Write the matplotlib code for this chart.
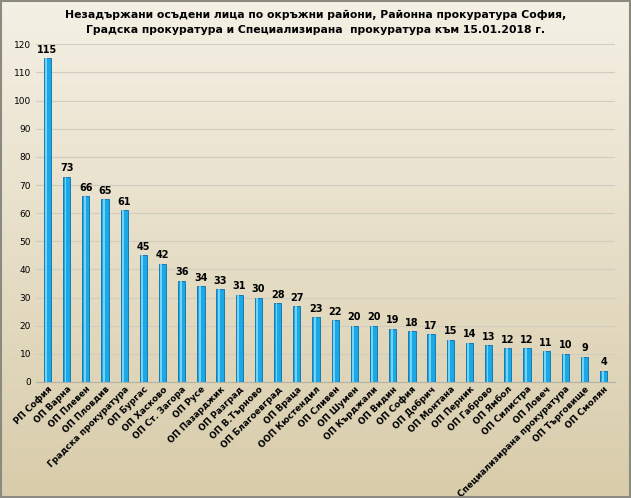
import numpy as np
import matplotlib
matplotlib.use("Agg")
import matplotlib.pyplot as plt

LABELS = ["РП София", "ОП Варна", "ОП Плевен", "ОП Пловдив", "Градска прокуратура",
          "ОП Бургас", "ОП Хасково", "ОП Ст. Загора", "ОП Русе", "ОП Пазарджик",
          "ОП Разград", "ОП В.Търново", "ОП Благоевград", "ОП Враца", "ООП Кюстендил",
          "ОП Сливен", "ОП Шумен", "ОП Кърджали", "ОП Видин", "ОП София",
          "ОП Добрич", "ОП Монтана", "ОП Перник", "ОП Габрово", "ОП Ямбол",
          "ОП Силистра", "ОП Ловеч", "Специализирана прокуратура", "ОП Търговище", "ОП Смолян"]
VALUES = [115, 73, 66, 65, 61, 45, 42, 36, 34, 33, 31, 30, 28, 27, 23,
          22, 20, 20, 19, 18, 17, 15, 14, 13, 12, 12, 11, 10, 9, 4]
TITLE = ("Незадържани осъдени лица по окръжни райони, Районна прокуратура София,\n"
         "Градска прокуратура и Специализирана  прокуратура към 15.01.2018 г.")

plt.rcParams["font.family"] = ["DejaVu Sans"]
fig = plt.figure(figsize=(6.31, 4.98), dpi=100)

# beige gradient background
bg = fig.add_axes([0, 0, 1, 1], zorder=-10)
grad = np.linspace(0, 1, 256).reshape(-1, 1)
from matplotlib.colors import LinearSegmentedColormap
cmap = LinearSegmentedColormap.from_list("bg", ["#f4f0e4", "#d8ccaa"])
bg.imshow(grad, aspect="auto", cmap=cmap, extent=[0, 1, 0, 1], origin="upper")
bg.set_axis_off()
for s in ["left", "right", "top", "bottom"]:
    pass
fig.patches.append(plt.Rectangle((0.002, 0.002), 0.996, 0.996, transform=fig.transFigure,
                                 fill=False, edgecolor="#8a8a80", linewidth=1.5))

ax = fig.add_axes([0.057, 0.233, 0.918, 0.678])
ax.patch.set_alpha(0)
x = np.arange(len(VALUES))
ax.bar(x, VALUES, width=0.38, color="#19a9e6", edgecolor="#0a6fa8", linewidth=0.6, zorder=3)
ax.bar(x - 0.06, VALUES, width=0.1, color="#8fdcff", linewidth=0, zorder=4, alpha=0.8)
for xi, v in zip(x, VALUES):
    ax.text(xi, v + 1.2, str(v), ha="center", va="bottom", fontsize=7, fontweight="bold")

ax.set_ylim(0, 120)
ax.set_yticks(range(0, 121, 10))
ax.set_xlim(-0.6, len(VALUES) - 0.4)
ax.tick_params(axis="y", labelsize=6.5, length=0)
ax.set_xticks(x)
ax.set_xticklabels(LABELS, rotation=45, ha="right", rotation_mode="anchor",
                   fontsize=6.3, fontweight="bold")
ax.tick_params(axis="x", length=0, pad=2)
ax.grid(axis="y", color="#d0ccbf", linewidth=0.8, zorder=0)
for s in ["top", "right", "left"]:
    ax.spines[s].set_visible(False)
ax.spines["bottom"].set_color("#b0b0a8")

fig.text(0.5, 0.955, TITLE, ha="center", va="center", fontsize=7.8, fontweight="bold",
         linespacing=1.6)

fig.savefig("out.png", dpi=100)
